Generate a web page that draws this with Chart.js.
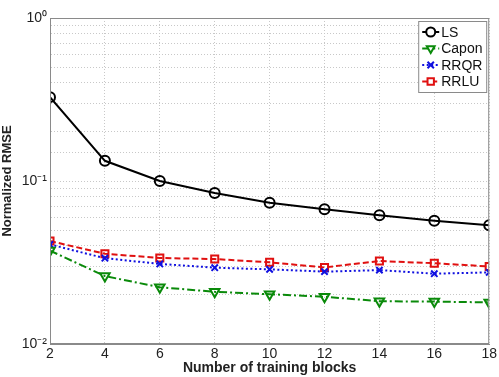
<!DOCTYPE html>
<html>
<head>
<meta charset="utf-8">
<script src="https://cdn.jsdelivr.net/npm/chart.js@4/dist/chart.umd.min.js"></script>
<style>
  html, body { margin: 0; padding: 0; background: #ffffff; }
  canvas { display: block; }
</style>
</head>
<body>
<canvas id="rmseChart" width="499" height="377"></canvas>
<script>
// training blocks on the x axis
const blocks = [2, 4, 6, 8, 10, 12, 14, 16, 18];

// normalized RMSE per method
const lsValues    = [0.327, 0.133, 0.100, 0.0844, 0.0736, 0.0670, 0.0616, 0.0571, 0.0535];
const caponValues = [0.0374, 0.0261, 0.0223, 0.0209, 0.0202, 0.0195, 0.0183, 0.0182, 0.0180];
const rrqrValues  = [0.0408, 0.0336, 0.0310, 0.0294, 0.0287, 0.0278, 0.0284, 0.0270, 0.0275];
const rrluValues  = [0.0428, 0.0358, 0.0337, 0.0332, 0.0317, 0.0295, 0.0323, 0.0313, 0.0299];

const yTickLabels = { 1: '10\u2070', 0.1: '10\u207B\u00B9', 0.01: '10\u207B\u00B2' };

const FONT = 'Arial, "Liberation Sans", sans-serif';

function toPoints(values) {
    return blocks.map((b, i) => ({ x: b, y: values[i] }));
}

// box around the axes, like matlab's "box on"
const frameBox = {
    id: 'frameBox',
    afterDraw(chart) {
        const a = chart.chartArea;
        const ctx = chart.ctx;
        ctx.save();
        ctx.strokeStyle = '#8a8a8a';
        ctx.lineWidth = 1;
        ctx.strokeRect(a.left + 0.5, a.top + 0.5, a.right - a.left - 1, a.bottom - a.top - 1);
        ctx.restore();
    }
};

// matlab style legend: line sample with marker in the middle
const lineLegend = {
    id: 'lineLegend',
    afterDraw(chart) {
        const ctx = chart.ctx;
        const a = chart.chartArea;
        const boxW = 68, boxH = 71;
        const x0 = a.right - 3 - boxW, y0 = a.top + 3;
        ctx.save();
        ctx.fillStyle = '#ffffff';
        ctx.fillRect(x0, y0, boxW, boxH);
        ctx.strokeStyle = '#8a8a8a';
        ctx.lineWidth = 1;
        ctx.strokeRect(x0 + 0.5, y0 + 0.5, boxW, boxH);
        chart.data.datasets.forEach((ds, i) => {
            const cy = y0 + 11 + i * 16.5;
            ctx.strokeStyle = ds.borderColor;
            ctx.lineWidth = 2;
            ctx.setLineDash(ds.borderDash || []);
            ctx.beginPath();
            ctx.moveTo(x0 + 4, cy);
            ctx.lineTo(x0 + 21, cy);
            ctx.stroke();
            ctx.setLineDash([]);
            ctx.fillStyle = '#ffffff';
            Chart.helpers.drawPoint(ctx, {
                pointStyle: ds.pointStyle,
                rotation: ds.pointRotation || 0,
                borderWidth: 2,
                radius: 4.5
            }, x0 + 12.5, cy);
            ctx.fillStyle = '#111111';
            ctx.font = '14px ' + FONT;
            ctx.textBaseline = 'middle';
            ctx.fillText(ds.label, x0 + 23, cy + 1);
        });
        ctx.restore();
    }
};

const ctx = document.getElementById('rmseChart').getContext('2d');
new Chart(ctx, {
    type: 'line',
    data: {
        datasets: [{
            label: 'LS',
            data: toPoints(lsValues),
            borderColor: '#000000',
            backgroundColor: '#ffffff',
            borderWidth: 2,
            pointStyle: 'circle',
            pointRadius: 5,
            pointBorderWidth: 2,
            pointBackgroundColor: 'rgba(255,255,255,0)'
        }, {
            label: 'Capon',
            data: toPoints(caponValues),
            borderColor: '#0a8a0a',
            backgroundColor: '#ffffff',
            borderWidth: 2,
            borderDash: [8, 3, 2, 3],
            pointStyle: 'triangle',
            pointRotation: 180,
            pointRadius: 5.5,
            pointBorderWidth: 2,
            pointBackgroundColor: 'rgba(255,255,255,0)'
        }, {
            label: 'RRQR',
            data: toPoints(rrqrValues),
            borderColor: '#1010e0',
            backgroundColor: '#ffffff',
            borderWidth: 2,
            borderDash: [2, 2.5],
            pointStyle: 'crossRot',
            pointRadius: 4.5,
            pointBorderWidth: 2
        }, {
            label: 'RRLU',
            data: toPoints(rrluValues),
            borderColor: '#e01010',
            backgroundColor: '#ffffff',
            borderWidth: 2,
            borderDash: [6, 3],
            pointStyle: 'rect',
            pointRadius: 5,
            pointBorderWidth: 2,
            pointBackgroundColor: 'rgba(255,255,255,0)'
        }]
    },
    options: {
        responsive: false,
        animation: false,
        devicePixelRatio: 1,
        layout: { padding: { top: 18, right: 6, left: 0, bottom: 0 } },
        plugins: {
            legend: { display: false },
            tooltip: { enabled: false }
        },
        scales: {
            x: {
                type: 'linear',
                min: 2,
                max: 18,
                ticks: {
                    stepSize: 2,
                    color: '#222222',
                    font: { family: FONT, size: 14 },
                    padding: 2
                },
                grid: {
                    color: '#c8c8c8',
                    drawTicks: false
                },
                border: { color: '#8a8a8a', dash: [1, 2] },
                title: {
                    display: true,
                    text: 'Number of training blocks',
                    color: '#222222',
                    font: { family: FONT, size: 14, weight: 'bold' },
                    padding: { top: 0, bottom: 0 }
                },
                afterFit(scale) { scale.height = 33; }
            },
            y: {
                type: 'logarithmic',
                min: 0.01,
                max: 1,
                ticks: {
                    color: '#222222',
                    font: { family: FONT, size: 14 },
                    padding: 3,
                    autoSkip: false,
                    callback(value) {
                        return yTickLabels[value] || '';
                    }
                },
                grid: {
                    color: '#c8c8c8',
                    drawTicks: false
                },
                border: { color: '#8a8a8a', dash: [1, 2] },
                title: {
                    display: true,
                    text: 'Normalized RMSE',
                    color: '#222222',
                    font: { family: FONT, size: 13, weight: 'bold' },
                    padding: { top: 0, bottom: 4 }
                },
                afterFit(scale) { scale.width = 50; }
            }
        }
    },
    plugins: [frameBox, lineLegend]
});
</script>
</body>
</html>
